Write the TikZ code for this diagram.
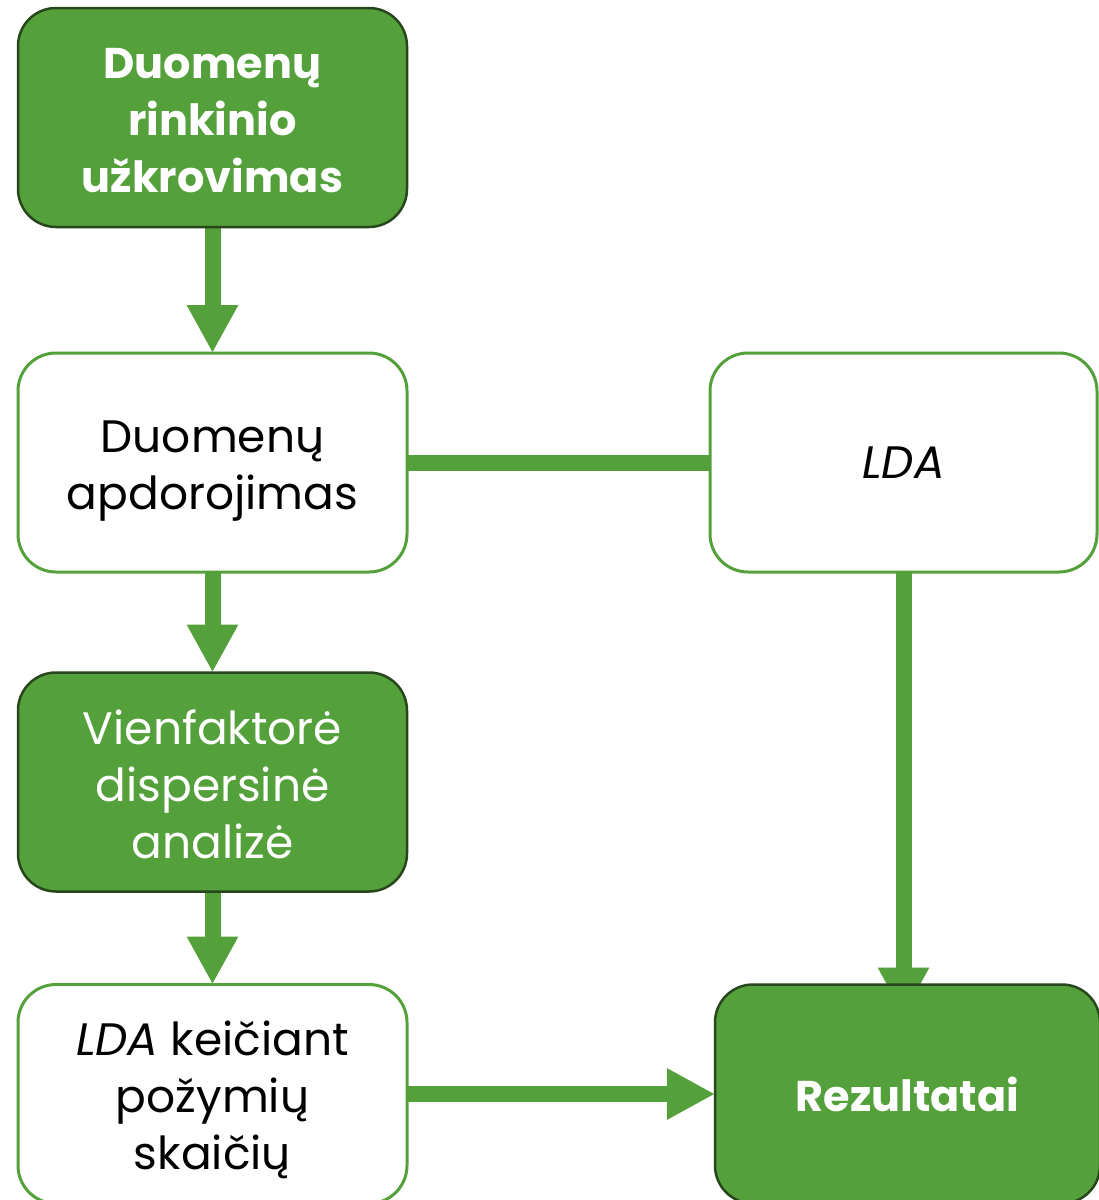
\documentclass[tikz,border=0pt]{standalone}
\usepackage{fontspec}
\setmainfont{Poppins}
\usetikzlibrary{arrows.meta,calc,backgrounds}
\definecolor{gr}{RGB}{84,160,59}
\definecolor{grdark}{RGB}{40,70,28}
\tikzset{
  box/.style={rounded corners=38pt, minimum width=389pt, minimum height=219pt, inner sep=0pt, outer sep=0pt, align=center, font=\fontsize{45.5}{57}\selectfont},
  boldtext/.style={font=\fontsize{43}{57}\selectfont\bfseries},
  greenbox/.style={box, fill=gr, draw=grdark, line width=2.5pt, text=white},
  whitebox/.style={box, fill=white, draw=gr, line width=3pt, text=black},
  conn/.style={draw=gr, line width=16pt},
  arr/.style={conn, -{Triangle[width=48pt,length=48pt]}, gr},
}
\newcommand{\lowered}[2]{\raisebox{-#1}[\height][\depth]{\begin{tabular}{@{}c@{}}#2\end{tabular}}}
\begin{document}
\begin{tikzpicture}[x=1pt,y=-1pt]
\useasboundingbox (0,0) rectangle (1099,1200);
\node[greenbox, boldtext] (load) at (212.5,117.5) {\lowered{6.5pt}{Duomenų\\rinkinio\\užkrovimas}};
\node[whitebox] (proc) at (212.5,462.5) {\lowered{7pt}{Duomenų\\apdorojimas}};
\node[greenbox] (anova) at (212.5,782) {\lowered{8pt}{Vienfaktorė\\dispersinė\\analizė}};
\node[whitebox] (ldak) at (212.5,1094) {\lowered{7.5pt}{\textit{LDA} keičiant\\požymių\\skaičių}};
\node[whitebox, minimum width=387pt] (lda) at (903.5,462.5) {\textit{LDA}};
\node[greenbox, boldtext, minimum width=385pt] (res) at (907.5,1094) {Rezultatai};
\begin{scope}[on background layer]
\draw[arr] (load.south) -- (proc.north);
\draw[arr] (proc.south) -- (anova.north);
\draw[arr] (anova.south) -- (ldak.north);
\draw[conn] (proc.east) -- (lda.west);
\draw[arr] (lda.south) -- ($(lda.south |- res.north)+(0,31)$);
\draw[arr] (ldak.east) -- (res.west);
\end{scope}
\end{tikzpicture}
\end{document}
